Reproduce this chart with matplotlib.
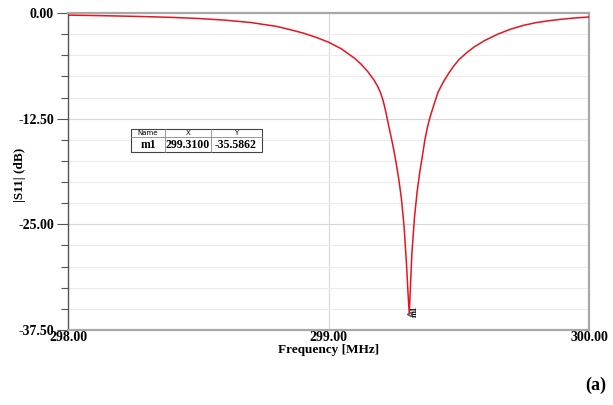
import numpy as np
import matplotlib.pyplot as plt
from matplotlib.ticker import MultipleLocator
from matplotlib.patches import Rectangle

# |S11|
freq = [298.00, 298.10, 298.20, 298.30, 298.40, 298.50, 298.60, 298.70, 298.80,
        298.85, 298.90, 298.95, 299.00, 299.05, 299.10, 299.125, 299.15, 299.175,
        299.19, 299.20, 299.21, 299.22, 299.23, 299.24, 299.25, 299.26, 299.27,
        299.28, 299.29, 299.30, 299.305, 299.31, 299.315, 299.32, 299.33, 299.34,
        299.35, 299.36, 299.37, 299.38, 299.39, 299.40, 299.42, 299.44, 299.46,
        299.48, 299.50, 299.53, 299.56, 299.60, 299.65, 299.70, 299.75, 299.80,
        299.85, 299.90, 299.95, 300.00]
s11 = [-0.25, -0.30, -0.36, -0.43, -0.52, -0.65, -0.84, -1.12, -1.58,
       -1.95, -2.35, -2.85, -3.45, -4.25, -5.35, -6.05, -6.90, -7.95,
       -8.75, -9.45, -10.4, -11.7, -13.2, -14.6, -16.1, -17.8, -19.7,
       -22.0, -25.2, -30.0, -33.0, -35.5862, -32.0, -28.5, -24.2, -21.2,
       -18.9, -17.0, -15.0, -13.5, -12.3, -11.3, -9.4, -8.2, -7.2,
       -6.3, -5.55, -4.7, -4.0, -3.25, -2.5, -1.9, -1.45, -1.12,
       -0.90, -0.72, -0.58, -0.47]

marker_name = 'm1'
marker_x = 299.31
marker_y = -35.5862

xticks = [298.0, 299.0, 300.0]
yticks = [0.0, -12.5, -25.0, -37.5]

plt.rcParams['font.family'] = ['Liberation Serif', 'DejaVu Serif']

fig = plt.figure(figsize=(6.13, 4.05), dpi=100)
ax = fig.add_axes([68/613, 1-330/405, (589-68)/613, (330-13)/405])

ax.plot(freq, s11, color='#e8141b', lw=1.1, zorder=3)

ax.set_xlim(298, 300)
ax.set_ylim(-37.5, 0)
ax.set_xticks(xticks)
ax.set_xticklabels(['%.2f' % v for v in xticks], fontweight='bold', fontsize=10)
ax.set_yticks(yticks)
ax.set_yticklabels(['%.2f' % v for v in yticks], fontweight='bold', fontsize=10)
ax.yaxis.set_minor_locator(MultipleLocator(2.5))

ax.grid(True, which='major', axis='both', color='#d8d8d8', lw=0.8)
ax.grid(True, which='minor', axis='y', color='#ececec', lw=0.8)
ax.set_axisbelow(True)

ax.tick_params(axis='y', which='major', length=8, width=0.8, color='#555555', pad=2)
ax.tick_params(axis='y', which='minor', length=5, width=0.8, color='#555555')
ax.tick_params(axis='x', which='major', length=0, pad=1)

for side in ['top', 'right', 'bottom']:
    ax.spines[side].set_color('#a8a8a8')
    ax.spines[side].set_linewidth(1.6)
ax.spines['left'].set_color('#555555')
ax.spines['left'].set_linewidth(1.0)

ax.set_xlabel('Frequency [MHz]', fontweight='bold', fontsize=9.5, labelpad=0)
ax.set_ylabel('|S11| (dB)', fontweight='bold', fontsize=9.5)
ax.yaxis.set_label_coords(-0.08, 0.49)

# marker at the minimum
ax.plot([marker_x], [marker_y], marker='<', ms=3, color='#555555', mfc='none', zorder=4)
ax.text(marker_x + 0.022, marker_y + 0.3, marker_name, rotation=90, fontsize=6,
        fontweight='bold', ha='center', va='center', zorder=5)

# marker table
def fx(px):
    return px / 613
def fy(py):
    return 1 - py / 405

fig.patches.append(Rectangle((fx(131), fy(152)), fx(262) - fx(131), fy(129) - fy(152),
                             transform=fig.transFigure, fc='white', ec='#444444', lw=0.8, zorder=5))
fig.add_artist(plt.Line2D([fx(131), fx(262)], [fy(137), fy(137)], transform=fig.transFigure,
                          color='#888888', lw=0.6, zorder=6))
for cx in [165, 211]:
    fig.add_artist(plt.Line2D([fx(cx), fx(cx)], [fy(129), fy(152)], transform=fig.transFigure,
                              color='#888888', lw=0.6, zorder=6))
hdr_y = fy(133)
row_y = fy(145)
fig.text(fx(148), hdr_y, 'Name', fontsize=5, ha='center', va='center', zorder=7, family='DejaVu Sans')
fig.text(fx(188), hdr_y, 'X', fontsize=5, ha='center', va='center', zorder=7, family='DejaVu Sans')
fig.text(fx(236), hdr_y, 'Y', fontsize=5, ha='center', va='center', zorder=7, family='DejaVu Sans')
fig.text(fx(148), row_y, marker_name, fontsize=8.5, fontweight='bold', ha='center', va='center', zorder=7)
fig.text(fx(188), row_y, '%.4f' % marker_x, fontsize=8.5, fontweight='bold', ha='center', va='center', zorder=7)
fig.text(fx(236), row_y, '%.4f' % marker_y, fontsize=8.5, fontweight='bold', ha='center', va='center', zorder=7)

fig.text(fx(596), fy(385), '(a)', fontsize=13, fontweight='bold', ha='center', va='center')

fig.savefig('out.png', dpi=100)
